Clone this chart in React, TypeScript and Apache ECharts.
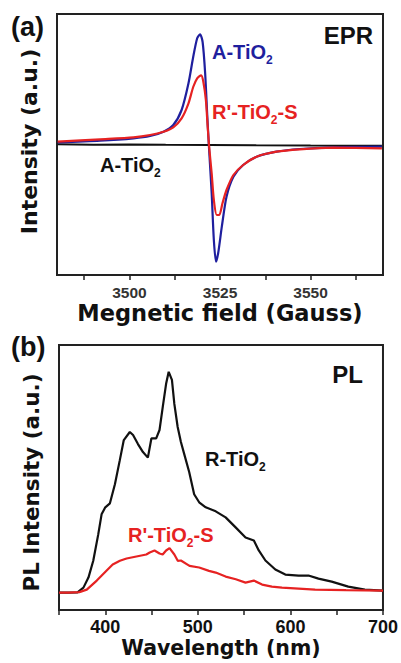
import React, { useEffect, useRef } from "react";
import * as echarts from "echarts";

// ---- Panel (a): EPR ----
const eprBlue: [number, number][] = [
  [3480.2, 2.5], [3491.9, 4.3], [3501.1, 6.7], [3505.7, 9], [3509.4, 13.3], [3512.1, 20],
  [3514.4, 35], [3516.3, 61.7], [3517.6, 88], [3518.7, 106.7], [3519.5, 110.7], [3520.2, 103],
  [3520.9, 71.7], [3521.5, 28], [3522.0, -5], [3522.7, -48], [3523.3, -95], [3523.9, -116.7],
  [3524.5, -108], [3525.5, -81.7], [3526.8, -51.7], [3528.7, -31.7], [3531.4, -20], [3535.1, -11.7],
  [3540.6, -6.7], [3547.0, -4], [3556.2, -2.3], [3569.7, -1.7],
];
const eprRed: [number, number][] = [
  [3480.2, 3.3], [3491.9, 5.7], [3501.1, 7.7], [3505.7, 10], [3509.4, 13.3], [3512.1, 17.7],
  [3514.4, 26.7], [3516.3, 41.7], [3517.6, 58], [3518.7, 66.7], [3519.8, 69.7], [3520.4, 63.3],
  [3521.1, 45], [3521.6, 18.3], [3522.0, -1.7], [3522.7, -28.3], [3523.3, -55], [3524.1, -70],
  [3524.8, -70], [3525.7, -58], [3526.8, -45], [3528.7, -30], [3531.4, -20], [3535.1, -11.7],
  [3540.6, -6.7], [3547.0, -4.3], [3556.2, -2.7], [3569.7, -3.3],
];
const eprBlack: [number, number][] = [
  [3480.2, 0.7], [3490, 0.3], [3500, 0.5], [3510, 0.2], [3522, 0], [3535, -0.3], [3550, -0.5], [3569.7, -0.7],
];
const eprTickValues = [3487.5, 3500, 3512.5, 3525, 3537.5, 3550, 3562.5];
const eprLabelValues = [3500, 3525, 3550];

// ---- Panel (b): PL ----
const plBlack: [number, number][] = [
  [350, 0], [360, 0], [370, 0.3], [376.4, 5], [381.8, 15], [387, 31.7], [392.4, 58], [396, 78],
  [400, 85], [405, 89], [410.4, 108], [415.7, 132], [420, 152], [426.5, 160], [430, 157],
  [435.3, 148], [440.7, 140], [446, 134.5], [449.8, 153.6], [455, 153.6], [458.6, 162],
  [462.1, 185], [465.7, 208], [468.5, 220], [472, 212], [474.6, 188], [478.2, 165], [481.7, 150],
  [485.3, 138], [490.7, 120], [496, 98], [501.4, 90], [508.5, 85], [519.3, 81], [530, 75],
  [540.8, 65], [551.5, 55], [560.5, 52], [565.8, 42], [573, 32], [583.7, 23], [594.5, 18],
  [608.8, 17], [619.5, 17], [630.3, 14], [644.6, 11], [662.5, 6], [680.4, 3], [700, 2],
];
const plRed: [number, number][] = [
  [350, 0], [360, 0], [372, 0.5], [380, 3], [390.8, 12], [401.5, 22], [408, 28], [415.8, 31.7],
  [423, 34], [433.6, 36], [444.3, 38], [448, 40], [453.2, 42], [458.6, 39], [462, 38],
  [465.7, 42], [469.4, 44.3], [474.6, 38], [478.3, 31.7], [481.7, 32], [491, 26.7], [501.4, 25],
  [512, 21.7], [519.3, 20], [530, 16], [541, 13.3], [551.5, 10], [560.5, 12], [569.4, 8],
  [580, 6], [590.9, 5], [626.7, 3], [660, 2.5], [700, 2],
];
const plTickValues = [350, 400, 450, 500, 550, 600, 650, 700];
const plLabelValues = [400, 500, 600, 700];

const FONT = "'Liberation Sans', Arial, Helvetica, sans-serif";
const WIDE = "'DejaVu Sans', 'Liberation Sans', sans-serif";
const BLUE = "#1f1f9e";
const RED = "#e62222";
const BLACK = "#111111";

function richSub(parts: string[]) {
  return parts.map((p, i) => (i % 2 === 0 ? `{m|${p}}` : `{s|${p}}`)).join("");
}
function richStyles(color: string) {
  return {
    m: { fontSize: 20, fontWeight: "bold", fontFamily: FONT, fill: color, lineHeight: 22 },
    s: { fontSize: 12, fontWeight: "bold", fontFamily: FONT, fill: color, lineHeight: 12, padding: [15, 0, 0, 0] },
  };
}

export default function App() {
  const ref = useRef<HTMLDivElement>(null);
  useEffect(() => {
    document.body.style.margin = "0";
    const chart = echarts.init(ref.current!, null, { renderer: "svg" });
    const axisLine = { show: true, onZero: false, lineStyle: { color: "#222", width: 2 } };
    const plain = (v: number) => String(v);
    const option: any = {
      animation: false,
      backgroundColor: "#fff",
      grid: [
        { left: 57, top: 14, width: 326, height: 261, show: true, borderColor: "#222", borderWidth: 2 },
        { left: 59, top: 345, width: 324, height: 265, show: true, borderColor: "#222", borderWidth: 2 },
      ],
      xAxis: [
        {
          type: "value", gridIndex: 0, min: 3480, max: 3570,
          axisLine,
          axisTick: { show: true, inside: false, length: 5, customValues: eprTickValues, lineStyle: { color: "#222", width: 1.5 } },
          axisLabel: { customValues: eprLabelValues, formatter: plain, margin: 10, lineHeight: 15, color: "#333", fontSize: 15.5, fontWeight: "bold", fontFamily: FONT },
          splitLine: { show: false },
          name: "Megnetic field (Gauss)", nameLocation: "middle", nameGap: 26,
          nameTextStyle: { fontSize: 22.5, lineHeight: 23, fontWeight: "bold", color: BLACK, fontFamily: WIDE },
        },
        {
          type: "value", gridIndex: 1, min: 350, max: 700, interval: 50,
          axisLine,
          axisTick: { show: true, inside: false, length: 5, customValues: plTickValues, lineStyle: { color: "#222", width: 1.5 } },
          axisLabel: { customValues: plLabelValues, formatter: plain, margin: 8, lineHeight: 18, color: BLACK, fontSize: 18, fontWeight: "bold", fontFamily: FONT },
          splitLine: { show: false },
          name: "Wavelength (nm)", nameLocation: "middle", nameGap: 27,
          nameTextStyle: { fontSize: 20.5, lineHeight: 21, fontWeight: "bold", color: BLACK, fontFamily: WIDE },
        },
      ],
      yAxis: [
        {
          type: "value", gridIndex: 0, min: -130, max: 131,
          axisLine, axisTick: { show: false }, axisLabel: { show: false }, splitLine: { show: false },
        },
        {
          type: "value", gridIndex: 1, min: -17.3, max: 246.7,
          axisLine, axisTick: { show: false }, axisLabel: { show: false }, splitLine: { show: false },
        },
      ],
      series: [
        { name: "A-TiO2 (dark)", type: "line", xAxisIndex: 0, yAxisIndex: 0, data: eprBlack, showSymbol: false, lineStyle: { color: BLACK, width: 2 } },
        { name: "A-TiO2", type: "line", xAxisIndex: 0, yAxisIndex: 0, data: eprBlue, showSymbol: false, smooth: 0.25, lineStyle: { color: BLUE, width: 2.2 } },
        { name: "R'-TiO2-S (EPR)", type: "line", xAxisIndex: 0, yAxisIndex: 0, data: eprRed, showSymbol: false, smooth: 0.25, lineStyle: { color: RED, width: 2.2 } },
        { name: "R-TiO2", type: "line", xAxisIndex: 1, yAxisIndex: 1, data: plBlack, showSymbol: false, lineStyle: { color: BLACK, width: 2.2 } },
        { name: "R'-TiO2-S", type: "line", xAxisIndex: 1, yAxisIndex: 1, data: plRed, showSymbol: false, lineStyle: { color: RED, width: 2.2 } },
      ],
      graphic: [
        { type: "text", x: 29.5, y: 141.5, rotation: Math.PI / 2, style: { text: "Intensity (a.u.)", font: `bold 22px ${WIDE}`, fill: BLACK, align: "center", verticalAlign: "middle" } },
        { type: "text", x: 31, y: 482.5, rotation: Math.PI / 2, style: { text: "PL Intensity (a.u.)", font: `bold 21.5px ${WIDE}`, fill: BLACK, align: "center", verticalAlign: "middle" } },
        { type: "text", x: 11, y: 27, style: { text: "(a)", font: `bold 27px ${FONT}`, fill: BLACK, verticalAlign: "middle" } },
        { type: "text", x: 11, y: 347, style: { text: "(b)", font: `bold 27px ${FONT}`, fill: BLACK, verticalAlign: "middle" } },
        { type: "text", x: 373, y: 35, style: { text: "EPR", font: `bold 24px ${FONT}`, fill: BLACK, align: "right", verticalAlign: "middle" } },
        { type: "text", x: 363, y: 374, style: { text: "PL", font: `bold 24px ${FONT}`, fill: BLACK, align: "right", verticalAlign: "middle" } },
        { type: "text", x: 212, y: 52, style: { text: richSub(["A-TiO", "2"]), rich: richStyles(BLUE), verticalAlign: "middle" } },
        { type: "text", x: 212, y: 112, style: { text: richSub(["R'-TiO", "2", "-S"]), rich: richStyles(RED), verticalAlign: "middle" } },
        { type: "text", x: 100, y: 165, style: { text: richSub(["A-TiO", "2"]), rich: richStyles(BLACK), verticalAlign: "middle" } },
        { type: "text", x: 205, y: 459, style: { text: richSub(["R-TiO", "2"]), rich: richStyles(BLACK), verticalAlign: "middle" } },
        { type: "text", x: 128, y: 535, style: { text: richSub(["R'-TiO", "2", "-S"]), rich: richStyles(RED), verticalAlign: "middle" } },
      ],
    };
    chart.setOption(option);
    return () => chart.dispose();
  }, []);
  return <div ref={ref} style={{ position: "absolute", left: 0, top: 0, width: 401, height: 663 }} />;
}
